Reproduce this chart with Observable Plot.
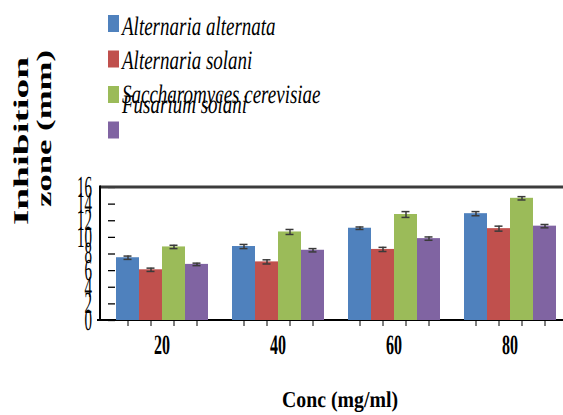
<!DOCTYPE html>
<html><head><meta charset="utf-8">
<script src="https://cdn.jsdelivr.net/npm/d3@7"></script>
<script src="https://cdn.jsdelivr.net/npm/@observablehq/plot@0.6"></script>
<style>
body{margin:0;background:#fff}
#chart{position:relative;width:563px;height:415px;overflow:hidden}
svg text{text-rendering:geometricPrecision;-webkit-font-smoothing:antialiased}
</style>
</head><body><div id="chart"></div>
<script>
// ---- data ----
const concentrations = ["20", "40", "60", "80"];
const species = ["Alternaria alternata", "Alternaria solani", "Saccharomyces cerevisiae", "Fusarium solani"];
const colors = ["#4F81BD", "#C0504D", "#9BBB59", "#8064A2"];
const alternariaAlternata = [7.55, 8.9, 11.1, 12.85];
const alternariaSolani   = [6.1, 7.05, 8.55, 11.05];
const saccharomyces      = [8.85, 10.65, 12.75, 14.7];
const fusariumSolani     = [6.75, 8.45, 9.85, 11.35];
const errAlternariaAlternata = [0.2, 0.25, 0.15, 0.25];
const errAlternariaSolani    = [0.2, 0.25, 0.25, 0.3];
const errSaccharomyces       = [0.2, 0.3, 0.35, 0.2];
const errFusariumSolani      = [0.15, 0.2, 0.2, 0.2];
const yTicks = [0, 2, 4, 6, 8, 10, 12, 14, 16];
const yLabelLines = ["Inhibition", "zone (mm)"];
const xLabel = "Conc (mg/ml)";

const series = [alternariaAlternata, alternariaSolani, saccharomyces, fusariumSolani];
const errors = [errAlternariaAlternata, errAlternariaSolani, errSaccharomyces, errFusariumSolani];
const data = concentrations.flatMap((c, i) => species.map((s, j) => ({
  conc: c, species: s, value: series[j][i], err: errors[j][i]
})));

const serif = "'Liberation Serif', 'Times New Roman', serif";

const plot = Plot.plot({
  width: 563, height: 415,
  marginTop: 187, marginBottom: 95, marginLeft: 100, marginRight: 0,
  style: {fontFamily: serif, background: "white", color: "black", overflow: "visible"},
  fx: {domain: concentrations, paddingInner: 0.2, paddingOuter: 0.083, align: 0.67, axis: null, label: null},
  x: {domain: species, padding: 0, tickSize: 6, tickFormat: () => "", label: null},
  y: {domain: [0, 16], axis: null},
  color: {domain: species, range: colors},
  marks: [
    Plot.axisY(yTicks, {tickSize: 7, tickFormat: () => "", label: null, strokeWidth: 1.3}),
    Plot.barY(data, {fx: "conc", x: "species", y: "value", fill: "species"}),
    Plot.ruleX(data, {fx: "conc", x: "species", y1: d => d.value - d.err, y2: d => d.value + d.err, stroke: "#3a3a3a", strokeWidth: 1.5}),
    Plot.tickY(data, {fx: "conc", x: "species", y: d => d.value + d.err, insetLeft: 7.5, insetRight: 7.5, stroke: "#3a3a3a", strokeWidth: 1.5}),
    Plot.tickY(data, {fx: "conc", x: "species", y: d => d.value - d.err, insetLeft: 7.5, insetRight: 7.5, stroke: "#3a3a3a", strokeWidth: 1.5}),
    Plot.text(concentrations, {fx: d => d, text: d => d, frameAnchor: "bottom", dy: 33.5, fontSize: 16, fontWeight: "bold"})
  ]
});

document.getElementById("chart").appendChild(plot);
const svg = d3.select(plot);

// stretch glyphs vertically (reference chart is vertically stretched)
function stretchY(sel, sy) {
  sel.each(function () {
    const x = +this.getAttribute("x") || 0, y = +this.getAttribute("y") || 0;
    this.removeAttribute("x"); this.removeAttribute("y");
    const tr = this.getAttribute("transform") || "";
    this.setAttribute("transform", `${tr} translate(${x},${y}) scale(1,${sy})`);
  });
}
stretchY(svg.selectAll('g[aria-label="text"] text'), 1.75);

const y = plot.scale("y");
const y0 = y.apply(0), yTop = y.apply(16);
const left = 100, right = 563;

// y tick labels, positioned with the y scale
const yt = svg.append("g").attr("font-family", serif).attr("font-size", 15)
  .attr("text-anchor", "end").attr("fill", "black");
yTicks.forEach(v => {
  yt.append("text").attr("transform", `translate(${left - 8},${y.apply(v)}) scale(1,2.05)`)
    .attr("dy", "0.32em").text(String(v));
});

// frame lines derived from scales
const under = svg.insert("g", ":first-child");
svg.append("line").attr("x1", left).attr("x2", right).attr("y1", yTop).attr("y2", yTop)
  .attr("stroke", "#3c3c3c").attr("stroke-width", 3);
under.append("line").attr("x1", left - 3).attr("x2", right).attr("y1", y0).attr("y2", y0)
  .attr("stroke", "black").attr("stroke-width", 2.2);
svg.append("line").attr("x1", left).attr("x2", left).attr("y1", yTop - 1.5).attr("y2", y0)
  .attr("stroke", "black").attr("stroke-width", 2);

// legend
const color = plot.scale("color");
const lg = svg.append("g").attr("font-family", serif).attr("font-style", "italic").attr("font-size", 19)
  .attr("text-anchor", "start");
const legendBaselines = [35, 69, 103, 113];
species.forEach((s, i) => {
  lg.append("rect").attr("x", 108).attr("y", 15 + 35.5 * i).attr("width", 11).attr("height", 17)
    .attr("fill", color.apply(s));
});
species.forEach((s, i) => {
  lg.append("text").attr("transform", `translate(122,${legendBaselines[i]}) scale(1,1.4)`)
    .attr("fill", "black").text(s);
});

// y axis title (two rotated lines)
const yl = svg.append("g").attr("font-family", serif).attr("font-weight", "bold").attr("font-size", 21)
  .attr("text-anchor", "middle").attr("fill", "black");
yl.append("text").attr("transform", "translate(28,141) rotate(-90)")
  .attr("textLength", 168).attr("lengthAdjust", "spacingAndGlyphs").text(yLabelLines[0]);
yl.append("text").attr("transform", "translate(51,128.5) rotate(-90)")
  .attr("textLength", 157).attr("lengthAdjust", "spacingAndGlyphs").text(yLabelLines[1]);

// x axis title
svg.append("text").attr("font-family", serif).attr("font-weight", "bold").attr("font-size", 20)
  .attr("text-anchor", "middle").attr("fill", "black")
  .attr("transform", "translate(340,407) scale(1,1.14)")
  .attr("textLength", 116).attr("lengthAdjust", "spacingAndGlyphs").text(xLabel);
</script>
</body></html>
